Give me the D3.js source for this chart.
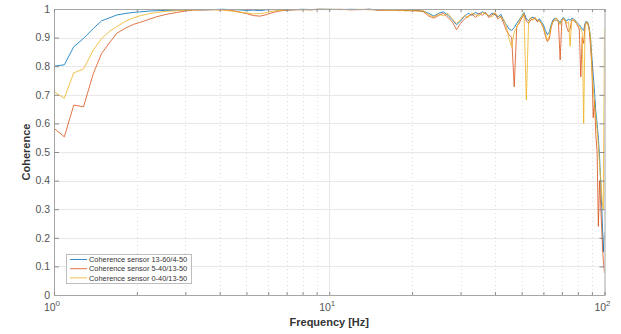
<!DOCTYPE html>
<html>
<head>
<meta charset="utf-8">
<script src="https://cdn.jsdelivr.net/npm/d3@7/dist/d3.min.js"></script>
<style>
  html, body { margin: 0; padding: 0; background: #fff; }
  svg { display: block; font-family: "Liberation Sans", Arial, Helvetica, sans-serif; }
</style>
</head>
<body>
<svg id="chart" width="621" height="334"></svg>
<script>
// Frequency axis (Hz), shared by all three coherence estimates
const freq = [
  1.00, 1.09, 1.18, 1.28, 1.39, 1.49, 1.60, 1.69, 1.81, 1.94, 2.05, 2.23, 2.36, 2.55, 2.79,
  3.0, 3.2, 3.5, 3.8, 4.1, 4.4, 4.7, 5.0, 5.3, 5.6, 5.9, 6.2, 6.6, 7.0, 7.5, 8.0, 8.6, 9.2,
  10, 11, 12, 13, 14, 15, 16, 17, 18, 19, 20, 21, 22, 23, 24, 25, 26, 27, 28, 29, 30,
  31, 32, 33, 34, 35, 36, 37, 38, 39, 40, 41, 42, 43, 44, 45, 46, 47, 48, 49, 50,
  51, 52, 53, 54, 55, 56, 57, 58, 59, 60, 61, 62, 63, 64, 65, 66, 67, 68, 69, 70,
  71, 72, 73, 74, 75, 76, 77, 78, 79, 80, 81, 82, 83, 84, 85, 86, 87, 88, 89, 90,
  91, 92, 93, 94, 95, 96, 97, 98, 99, 100
];

const cohBlue = [
  0.800, 0.805, 0.868, 0.897, 0.932, 0.959, 0.970, 0.979, 0.984, 0.988, 0.990, 0.993, 0.994, 0.995, 0.996,
  0.997, 0.998, 0.997, 0.998, 0.999, 0.998, 0.997, 0.995, 0.996, 0.994, 0.997, 0.998, 0.997, 0.996, 0.998, 0.999, 0.998, 0.999,
  0.999, 0.998, 0.999, 0.998, 0.999, 0.997, 0.998, 0.996, 0.997, 0.995, 0.996, 0.994, 0.992, 0.985, 0.975, 0.985, 0.990, 0.978, 0.962, 0.945, 0.958,
  0.975, 0.985, 0.978, 0.988, 0.982, 0.990, 0.984, 0.975, 0.986, 0.980, 0.972, 0.982, 0.960, 0.945, 0.930, 0.925, 0.935, 0.950, 0.962, 0.975,
  0.988, 0.965, 0.960, 0.968, 0.972, 0.965, 0.958, 0.966, 0.955, 0.945, 0.925, 0.910, 0.920, 0.945, 0.962, 0.968, 0.965, 0.960, 0.952, 0.965,
  0.970, 0.962, 0.958, 0.965, 0.960, 0.968, 0.965, 0.962, 0.955, 0.950, 0.945, 0.938, 0.930, 0.925, 0.950, 0.958, 0.952, 0.935, 0.895, 0.830,
  0.770, 0.710, 0.640, 0.600, 0.550, 0.480, 0.380, 0.280, 0.150, 0.220
];

const cohOrange = [
  0.583, 0.553, 0.664, 0.658, 0.775, 0.845, 0.885, 0.915, 0.932, 0.946, 0.953, 0.965, 0.973, 0.981, 0.988,
  0.993, 0.996, 0.997, 0.998, 0.997, 0.995, 0.990, 0.984, 0.977, 0.975, 0.980, 0.987, 0.993, 0.996, 0.997, 0.998, 0.997, 0.999,
  0.998, 0.999, 0.997, 0.998, 0.999, 0.996, 0.995, 0.997, 0.994, 0.996, 0.993, 0.995, 0.990, 0.975, 0.968, 0.978, 0.985, 0.970, 0.955, 0.928, 0.950,
  0.965, 0.975, 0.982, 0.970, 0.985, 0.978, 0.988, 0.970, 0.980, 0.985, 0.965, 0.975, 0.950, 0.925, 0.910, 0.900, 0.728, 0.940, 0.950, 0.968,
  0.980, 0.958, 0.950, 0.962, 0.965, 0.970, 0.955, 0.960, 0.948, 0.935, 0.905, 0.886, 0.895, 0.935, 0.958, 0.962, 0.960, 0.955, 0.822, 0.960,
  0.965, 0.958, 0.935, 0.920, 0.930, 0.962, 0.960, 0.955, 0.950, 0.940, 0.930, 0.763, 0.900, 0.880, 0.945, 0.952, 0.948, 0.925, 0.870, 0.800,
  0.620, 0.680, 0.560, 0.500, 0.240, 0.400, 0.300, 0.200, 0.120, 0.077
];

const cohYellow = [
  0.711, 0.688, 0.777, 0.790, 0.857, 0.897, 0.924, 0.938, 0.956, 0.969, 0.976, 0.984, 0.988, 0.992, 0.994,
  0.996, 0.997, 0.998, 0.997, 0.996, 0.993, 0.989, 0.986, 0.983, 0.984, 0.987, 0.992, 0.995, 0.997, 0.998, 0.997, 0.998, 0.999,
  0.999, 0.998, 0.998, 0.999, 0.997, 0.998, 0.996, 0.995, 0.996, 0.993, 0.995, 0.992, 0.994, 0.980, 0.972, 0.982, 0.976, 0.985, 0.965, 0.950, 0.962,
  0.978, 0.970, 0.985, 0.980, 0.975, 0.988, 0.982, 0.978, 0.972, 0.988, 0.976, 0.970, 0.965, 0.940, 0.895, 0.868, 0.920, 0.935, 0.958, 0.972,
  0.985, 0.682, 0.955, 0.970, 0.960, 0.968, 0.962, 0.958, 0.950, 0.930, 0.915, 0.890, 0.905, 0.940, 0.955, 0.965, 0.968, 0.958, 0.945, 0.962,
  0.968, 0.960, 0.950, 0.955, 0.870, 0.958, 0.965, 0.960, 0.952, 0.945, 0.940, 0.930, 0.920, 0.600, 0.940, 0.955, 0.950, 0.930, 0.900, 0.780,
  0.730, 0.660, 0.620, 0.580, 0.520, 0.450, 0.400, 0.330, 0.300, 0.930
];

const seriesNames = [
  "Coherence sensor 13-60/4-50",
  "Coherence sensor 5-40/13-50",
  "Coherence sensor 0-40/13-50"
];
const seriesColors = ["#0072BD", "#D95319", "#EDB120"];
const seriesValues = [cohBlue, cohOrange, cohYellow];

const yTicks = [0, 0.1, 0.2, 0.3, 0.4, 0.5, 0.6, 0.7, 0.8, 0.9, 1];
const yTickLabels = ["0", "0.1", "0.2", "0.3", "0.4", "0.5", "0.6", "0.7", "0.8", "0.9", "1"];
const xDecades = [1, 10, 100];
const xDecadeExponents = ["0", "1", "2"];

const svg = d3.select("#chart");
const plotLeft = 54, plotRight = 604.5, plotTop = 9, plotBottom = 295;

const x = d3.scaleLog().domain([1, 100]).range([plotLeft, plotRight]);
const y = d3.scaleLinear().domain([0, 1]).range([plotBottom, plotTop]);

// all log-spaced tick positions (1..9 per decade)
const xAllTicks = x.ticks();
const xMinorTicks = xAllTicks.filter(v => !xDecades.includes(v));

// grid
const grid = svg.append("g");
grid.selectAll("line.hgrid").data(yTicks.slice(1, -1)).join("line")
  .attr("x1", plotLeft).attr("x2", plotRight)
  .attr("y1", d => Math.round(y(d)) + 0.5).attr("y2", d => Math.round(y(d)) + 0.5)
  .attr("stroke", "#e8e8e8").attr("stroke-width", 1);
grid.selectAll("line.vminor").data(xMinorTicks).join("line")
  .attr("x1", d => Math.round(x(d)) + 0.5).attr("x2", d => Math.round(x(d)) + 0.5)
  .attr("y1", plotTop).attr("y2", plotBottom)
  .attr("stroke", "#dedede").attr("stroke-width", 1).attr("stroke-dasharray", "1,3");
grid.selectAll("line.vmajor").data([10]).join("line")
  .attr("x1", d => Math.round(x(d)) + 0.5).attr("x2", d => Math.round(x(d)) + 0.5)
  .attr("y1", plotTop).attr("y2", plotBottom)
  .attr("stroke", "#e8e8e8").attr("stroke-width", 1);

// data lines
svg.append("clipPath").attr("id", "plotclip").append("rect")
  .attr("x", plotLeft).attr("y", plotTop - 1)
  .attr("width", plotRight - plotLeft).attr("height", plotBottom - plotTop + 1);

const line = d3.line().x((d, i) => x(freq[i])).y(d => y(d));
svg.append("g").attr("clip-path", "url(#plotclip)")
  .selectAll("path").data(seriesValues).join("path")
  .attr("d", d => line(d))
  .attr("fill", "none")
  .attr("stroke", (d, i) => seriesColors[i])
  .attr("stroke-opacity", 0.8)
  .attr("stroke-width", 1)
  .attr("stroke-linejoin", "round");

// axes with inward ticks
const axisColor = "#a6a6a6";
const textColor = "#555";

const yAxis = svg.append("g").attr("transform", `translate(${plotLeft},0)`)
  .call(d3.axisLeft(y).tickValues(yTicks).tickSize(-5).tickPadding(4)
    .tickFormat((d, i) => yTickLabels[i]));
const yAxisR = svg.append("g").attr("transform", `translate(${plotRight},0)`)
  .call(d3.axisRight(y).tickValues(yTicks).tickSize(-5).tickFormat(""));
const xAxis = svg.append("g").attr("transform", `translate(0,${plotBottom})`)
  .call(d3.axisBottom(x).tickValues(xAllTicks).tickSize(-3).tickFormat(""));
const xAxisT = svg.append("g").attr("transform", `translate(0,${plotTop})`)
  .call(d3.axisTop(x).tickValues(xAllTicks).tickSize(-3).tickFormat(""));

[yAxis, yAxisR, xAxis, xAxisT].forEach(g => {
  g.select(".domain").attr("stroke", axisColor);
  g.selectAll(".tick line").attr("stroke", "#8c8c8c");
});
yAxis.selectAll(".tick text")
  .attr("fill", textColor).attr("font-size", "10.5px")
  .attr("font-family", "'Liberation Sans', Arial, sans-serif");

// decade labels 10^n
const xl = svg.append("g").selectAll("text").data(xDecades).join("text")
  .attr("x", d => x(d) - 2)
  .attr("y", 311)
  .attr("text-anchor", "middle")
  .attr("fill", textColor)
  .attr("font-size", "10.5px");
xl.append("tspan").text("10");
xl.append("tspan").attr("dy", -5).attr("font-size", "8px").text((d, i) => xDecadeExponents[i]);

// axis titles
svg.append("text")
  .attr("x", (plotLeft + plotRight) / 2).attr("y", 326)
  .attr("text-anchor", "middle").attr("font-weight", "bold")
  .attr("font-size", "11px").attr("fill", "#333")
  .text("Frequency [Hz]");
svg.append("text")
  .attr("transform", `translate(30,${(plotTop + plotBottom) / 2}) rotate(-90)`)
  .attr("text-anchor", "middle").attr("font-weight", "bold")
  .attr("font-size", "11px").attr("fill", "#333")
  .text("Coherence");

// legend
const lg = svg.append("g").attr("transform", "translate(66,254)");
lg.append("rect").attr("x", 0.5).attr("y", 0.5).attr("width", 125).attr("height", 29)
  .attr("fill", "#fff").attr("stroke", "#bdbdbd").attr("stroke-width", 1);
const rows = lg.selectAll("g.row").data(seriesNames).join("g")
  .attr("transform", (d, i) => `translate(0,${5.5 + i * 9.2})`);
rows.append("line").attr("x1", 4).attr("x2", 21).attr("y1", 0).attr("y2", 0)
  .attr("stroke", (d, i) => seriesColors[i]).attr("stroke-opacity", 0.8).attr("stroke-width", 1);
rows.append("text").attr("x", 23).attr("y", 2.6)
  .attr("font-size", "7.4px").attr("fill", "#333").text(d => d);
</script>
</body>
</html>
